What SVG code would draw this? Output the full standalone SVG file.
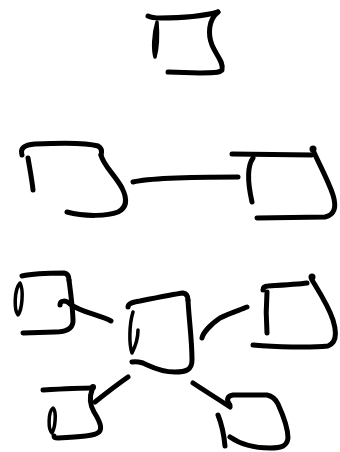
<svg xmlns="http://www.w3.org/2000/svg" width="340" height="452" viewBox="0 0 340 452">
<style>
.s{fill:none;stroke:#000;stroke-width:5;stroke-linecap:round;stroke-linejoin:round}
.t{fill:none;stroke:#000;stroke-width:3.5;stroke-linecap:round;stroke-linejoin:round}
.d{fill:#000}
</style>
<rect width="340" height="452" fill="#fff"/>
<g id="connectors">
<path class="s" d="M133,182 C150,178 200,177 238,177"/>
<path class="s" d="M60,305 C60,300 66,300 70,304 C80,312 100,315 111,321"/>
<path class="s" d="M202,338 C203,333 210,325 220,318 C230,313 240,310 247,307"/>
<path class="s" d="M95,402 C105,394 118,384 128,377"/>
<path class="s" d="M193,383 C205,391 218,399 230,407"/>
</g>
<g id="node-top">
<path class="s" d="M148,16 Q152,18 160,18 C180,18 200,17 218,12"/>
<path class="s" d="M218,12 C208,20 208,35 212,45 C216,55 224,62 222,70 C220,73 210,73 200,73 L168,72"/>
<path class="t" d="M157,22 C153,35 153,50 155,57 C157,50 158,35 157,22 Z"/>
</g>
<g id="node-left">
<path class="s" d="M22,155 C20,148 24,145 35,144 C55,143 85,142 98,146 Q103,149 101,155"/>
<path class="s" d="M101,155 C103,165 115,175 122,188 C128,200 126,208 118,212 C108,216 85,217 67,212"/>
<path class="s" d="M28,158 C30,170 32,180 33,190"/>
</g>
<g id="node-right">
<path class="s" d="M232,154 L312,155"/>
<circle class="d" cx="313" cy="149" r="3.5"/>
<path class="s" d="M313,150 C318,162 328,180 333,195 C337,208 334,215 325,217 L257,218"/>
<path class="s" d="M253,158 C248,165 247,180 252,202"/>
</g>
<g id="node-lower-left">
<path class="s" d="M22,276 C35,273 55,273 64,273 Q69,274 69,280"/>
<path class="s" d="M69,280 C71,295 73,310 73,322 C72,330 65,332 55,332 L23,333"/>
<path class="t" d="M20,283 C14,290 14,310 18,315 C22,310 24,290 20,283 Z"/>
</g>
<g id="node-center">
<path class="s" d="M128,307 C128,303 134,302 140,301 C160,297 175,294 183,293 Q188,294 188,300"/>
<path class="s" d="M188,300 C189,320 192,340 192,360 C192,370 186,372 175,372 C160,372 150,366 143,363 Q136,361 132,362"/>
<path class="t" d="M133,312 C129,325 129,345 132,353 C136,345 138,335 138,330"/>
</g>
<g id="node-lower-right">
<path class="s" d="M263,290 Q263,286 268,286 C285,285 300,284 307,283"/>
<circle class="d" cx="312" cy="277" r="3.5"/>
<path class="s" d="M312,280 C318,290 328,305 333,320 C337,333 336,343 328,346 C310,348 275,347 253,345"/>
<path class="s" d="M267,292 C266,305 266,320 267,333"/>
</g>
<g id="node-bottom-left">
<path class="s" d="M43,390 C60,389 80,388 93,388"/>
<circle class="d" cx="93" cy="387" r="3"/>
<path class="s" d="M92,390 C89,398 90,405 94,412 C99,420 103,428 99,432 C95,436 80,437 58,438 Q54,438 54,436"/>
<path class="t" d="M53,408 C48,412 48,430 52,433 C55,428 57,412 53,408 Z"/>
</g>
<g id="node-bottom-right">
<path class="s" d="M230,405 C226,400 227,396 233,395 L267,395 C272,396 276,400 278,404 C283,415 288,428 288,438 C287,446 282,448 270,448 C255,448 240,444 230,437"/>
<path class="s" d="M218,415 C222,425 224,435 225,446"/>
</g>
</svg>
